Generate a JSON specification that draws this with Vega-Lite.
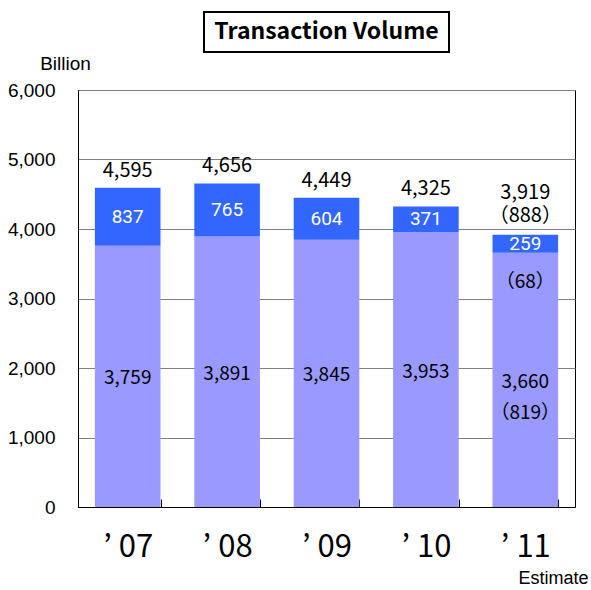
{
  "$schema": "https://vega.github.io/schema/vega-lite/v6.json",
  "padding": {"left": 6, "top": 11, "right": 0, "bottom": 0},
  "background": "white",
  "bounds": "flush",
  "center": true,
  "spacing": 38,
  "config": {"view": {"stroke": null}, "font": "Liberation Sans"},
  "vconcat": [
    {
      "width": 245,
      "height": 40,
      "view": {"stroke": "black", "strokeWidth": 2},
      "data": {"values": [{"t": "Transaction Volume"}]},
      "mark": {"type": "text", "font": "Noto Sans CJK JP", "fontWeight": "bold", "fontSize": 23, "color": "black"},
      "encoding": {"text": {"field": "t"}}
    },
    {
      "width": 497,
      "height": 417,
      "view": {"stroke": "black", "strokeWidth": 1},
      "data": {"values": [
        {"year": "’ 07", "lower": 3759, "upper": 837, "total": 4595},
        {"year": "’ 08", "lower": 3891, "upper": 765, "total": 4656},
        {"year": "’ 09", "lower": 3845, "upper": 604, "total": 4449},
        {"year": "’ 10", "lower": 3953, "upper": 371, "total": 4325},
        {"year": "’ 11", "lower": 3660, "upper": 259, "total": 3919, "lowerNote": "（819）", "upperNote": "（68）", "totalNote": "（888）"}
      ]},
      "encoding": {
        "x": {
          "field": "year", "type": "ordinal", "sort": null,
          "scale": {"paddingInner": 0.34, "paddingOuter": 0.17},
          "axis": {
            "title": "Estimate", "titleFont": "Liberation Sans", "titleFontSize": 18, "titleFontWeight": "normal",
            "titleColor": "black", "titleX": 510, "titleY": 71, "titleAlign": "right", "titleBaseline": "middle",
            "labelAngle": 0, "labelFont": "Noto Sans CJK JP", "labelFontSize": 31, "labelColor": "black",
            "labelPadding": 33, "labelBaseline": "top",
            "ticks": true, "tickBand": "extent", "tickSize": -8, "tickColor": "black", "tickWidth": 1,
            "domainColor": "black", "grid": false
          }
        }
      },
      "layer": [
        {
          "mark": {"type": "bar", "color": "#9999FF"},
          "encoding": {
            "y": {
              "field": "lower", "type": "quantitative",
              "scale": {"domain": [0, 6000], "nice": false},
              "axis": {
                "values": [0, 1000, 2000, 3000, 4000, 5000, 6000], "format": ",d",
                "title": "Billion", "titleAngle": 0, "titleX": -13, "titleY": -27,
                "titleAlign": "center", "titleBaseline": "middle", "titleFont": "Liberation Sans",
                "titleFontSize": 19, "titleFontWeight": "normal", "titleColor": "black",
                "labelFont": "Liberation Sans", "labelFontSize": 19, "labelColor": "black", "labelPadding": 23,
                "ticks": false, "domainColor": "black", "grid": true, "gridColor": "#808080", "gridWidth": 1
              }
            }
          }
        },
        {
          "mark": {"type": "bar", "color": "#3366FF"},
          "encoding": {
            "y": {"field": "lower", "type": "quantitative"},
            "y2": {"field": "total"}
          }
        },
        {
          "transform": [{"filter": "!isValid(datum.totalNote)"}],
          "mark": {"type": "text", "font": "Noto Sans CJK JP", "fontSize": 20, "baseline": "middle", "dy": -17, "color": "black"},
          "encoding": {
            "y": {"field": "total", "type": "quantitative"},
            "text": {"field": "total", "type": "quantitative", "format": ",d"}
          }
        },
        {
          "transform": [{"filter": "isValid(datum.totalNote)"}],
          "mark": {"type": "text", "font": "Noto Sans CJK JP", "fontSize": 20, "baseline": "middle", "dy": -42, "color": "black"},
          "encoding": {
            "y": {"field": "total", "type": "quantitative"},
            "text": {"field": "total", "type": "quantitative", "format": ",d"}
          }
        },
        {
          "transform": [{"filter": "isValid(datum.totalNote)"}],
          "mark": {"type": "text", "font": "Noto Sans CJK JP", "fontSize": 20, "baseline": "middle", "dy": -19, "color": "black"},
          "encoding": {
            "y": {"field": "total", "type": "quantitative"},
            "text": {"field": "totalNote", "type": "nominal"}
          }
        },
        {
          "transform": [{"calculate": "(datum.lower + datum.total) / 2", "as": "upperMid"}],
          "mark": {"type": "text", "font": "Roboto", "fontSize": 19, "baseline": "middle", "color": "white"},
          "encoding": {
            "y": {"field": "upperMid", "type": "quantitative"},
            "text": {"field": "upper", "type": "quantitative", "format": ",d"}
          }
        },
        {
          "transform": [{"filter": "isValid(datum.upperNote)"}],
          "mark": {"type": "text", "font": "Noto Sans CJK JP", "fontSize": 19, "baseline": "middle", "dy": 29, "color": "black"},
          "encoding": {
            "y": {"field": "lower", "type": "quantitative"},
            "text": {"field": "upperNote", "type": "nominal"}
          }
        },
        {
          "transform": [{"calculate": "datum.lower / 2", "as": "lowerMid"}],
          "mark": {"type": "text", "font": "Noto Sans CJK JP", "fontSize": 19, "baseline": "middle", "dy": 2, "color": "black"},
          "encoding": {
            "y": {"field": "lowerMid", "type": "quantitative"},
            "text": {"field": "lower", "type": "quantitative", "format": ",d"}
          }
        },
        {
          "transform": [{"filter": "isValid(datum.lowerNote)"}, {"calculate": "datum.lower / 2", "as": "lowerMid"}],
          "mark": {"type": "text", "font": "Noto Sans CJK JP", "fontSize": 19, "baseline": "middle", "dy": 33, "color": "black"},
          "encoding": {
            "y": {"field": "lowerMid", "type": "quantitative"},
            "text": {"field": "lowerNote", "type": "nominal"}
          }
        }
      ]
    }
  ]
}
